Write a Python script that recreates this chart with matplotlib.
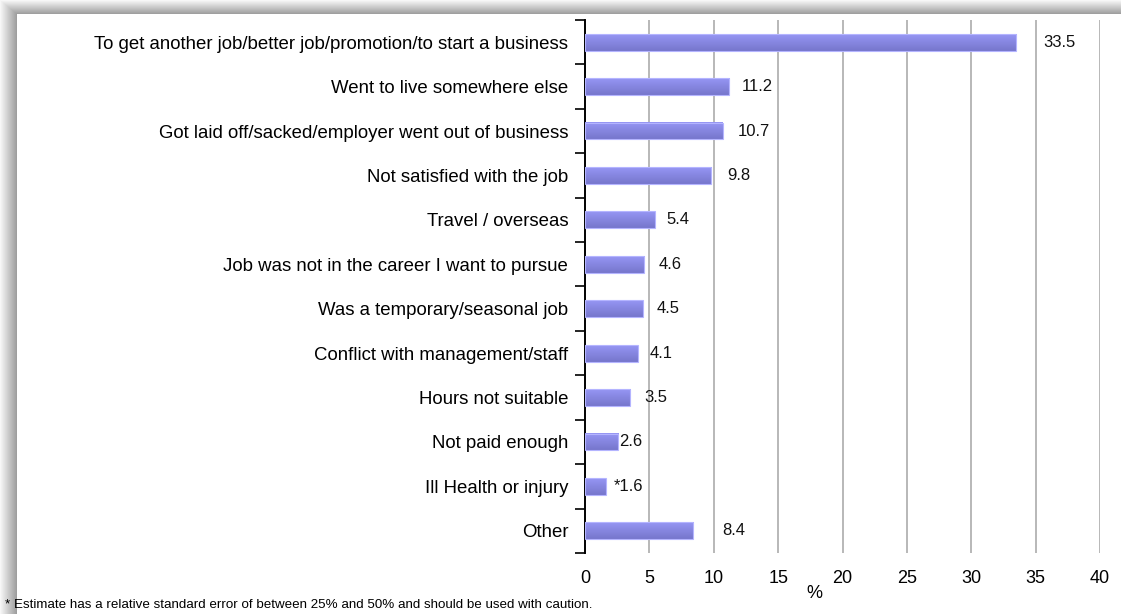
import numpy as np
import matplotlib
matplotlib.use("Agg")
import matplotlib.pyplot as plt
from matplotlib.colors import LinearSegmentedColormap

plt.rcParams["font.family"] = ["Liberation Sans", "DejaVu Sans"]

# Reasons for leaving last job (%)
categories = [
    "To get another job/better job/promotion/to start a business",
    "Went to live somewhere else",
    "Got laid off/sacked/employer went out of business",
    "Not satisfied with the job",
    "Travel / overseas",
    "Job was not in the career I want to pursue",
    "Was a temporary/seasonal job",
    "Conflict with management/staff",
    "Hours not suitable",
    "Not paid enough",
    "Ill Health or injury",
    "Other",
]
values = [33.5, 11.2, 10.7, 9.8, 5.4, 4.6, 4.5, 4.1, 3.5, 2.6, 1.6, 8.4]
value_labels = ["33.5", "11.2", "10.7", "9.8", "5.4", "4.6", "4.5", "4.1",
                "3.5", "2.6", "*1.6", "8.4"]
x_ticks = [0, 5, 10, 15, 20, 25, 30, 35, 40]
footnote = ("* Estimate has a relative standard error of between 25% and 50% "
            "and should be used with caution.")

# label gaps from bar end, in pixels
label_gap_px = [27, 13, 15, 16, 12, 14, 14, 12, 14, 1, 8, 29]

W, H = 1121, 614
fig = plt.figure(figsize=(W / 100, H / 100), dpi=100)

# soft drop-shadow frame along the left and top edges
bg = fig.add_axes([0, 0, 1, 1])
yy, xx = np.mgrid[0:H, 0:W]
t = np.maximum((17 - xx) / 17.0, (14 - yy) / 14.0)
gray = np.where(t > 0, 0.60 + 0.37 * np.clip(t, 0, 1), 1.0)
bg.imshow(np.dstack([gray, gray, gray]), extent=[0, W, H, 0], aspect="auto",
          interpolation="bilinear")
bg.set_xlim(0, W)
bg.set_ylim(H, 0)
bg.axis("off")

left, right, top, bottom = 585, 1100, 20, 553
ax = fig.add_axes([left / W, 1 - bottom / H, (right - left) / W, (bottom - top) / H])
ax.patch.set_alpha(0)

n = len(categories)
pos = np.arange(n)
bar_h = 0.38
xmax = 40

cmap = LinearSegmentedColormap.from_list("bar", ["#9696f4", "#7676cc"])
grad = np.linspace(0, 1, 64).reshape(-1, 1)
for y, v in zip(pos, values):
    ax.imshow(grad, cmap=cmap, extent=[0, v, y + bar_h / 2, y - bar_h / 2],
              aspect="auto", zorder=3, interpolation="bilinear")
    ax.add_patch(plt.Rectangle((0, y - bar_h / 2), v, bar_h, fill=False,
                               edgecolor="#b4b4ff", linewidth=0.8, zorder=4))
ax.set_xlim(0, xmax)
ax.set_ylim(n - 0.5, -0.5)

px_per_unit = (right - left) / xmax
for y, v, lab, gap in zip(pos, values, value_labels, label_gap_px):
    ax.text(v + gap / px_per_unit, y, lab, ha="left", va="center",
            fontsize=12, color="#111111", zorder=5)

# vertical gridlines
for x in x_ticks[1:]:
    ax.axvline(x, color="#b8b8b8", linewidth=1.4, zorder=1)

ax.set_xticks(x_ticks)
ax.set_xticklabels([str(x) for x in x_ticks], fontsize=13)
ax.tick_params(axis="x", length=0, pad=12)

ax.set_yticks(pos)
ax.set_yticklabels(categories, fontsize=13.4)
ax.tick_params(axis="y", which="major", length=0, pad=12)
ax.set_yticks(np.arange(n + 1) - 0.5, minor=True)
ax.tick_params(axis="y", which="minor", length=7, width=1.2, color="black",
               direction="out")

for s in ["top", "right", "bottom"]:
    ax.spines[s].set_visible(False)
ax.spines["left"].set_linewidth(1.4)
ax.spines["left"].set_color("black")

fig.text(814 / W, 1 - 593 / H, "%", fontsize=13, ha="center", va="center")
fig.text(5 / W, 1 - 605 / H, footnote, fontsize=9.6, ha="left", va="center")

fig.savefig("out.png", dpi=100)
